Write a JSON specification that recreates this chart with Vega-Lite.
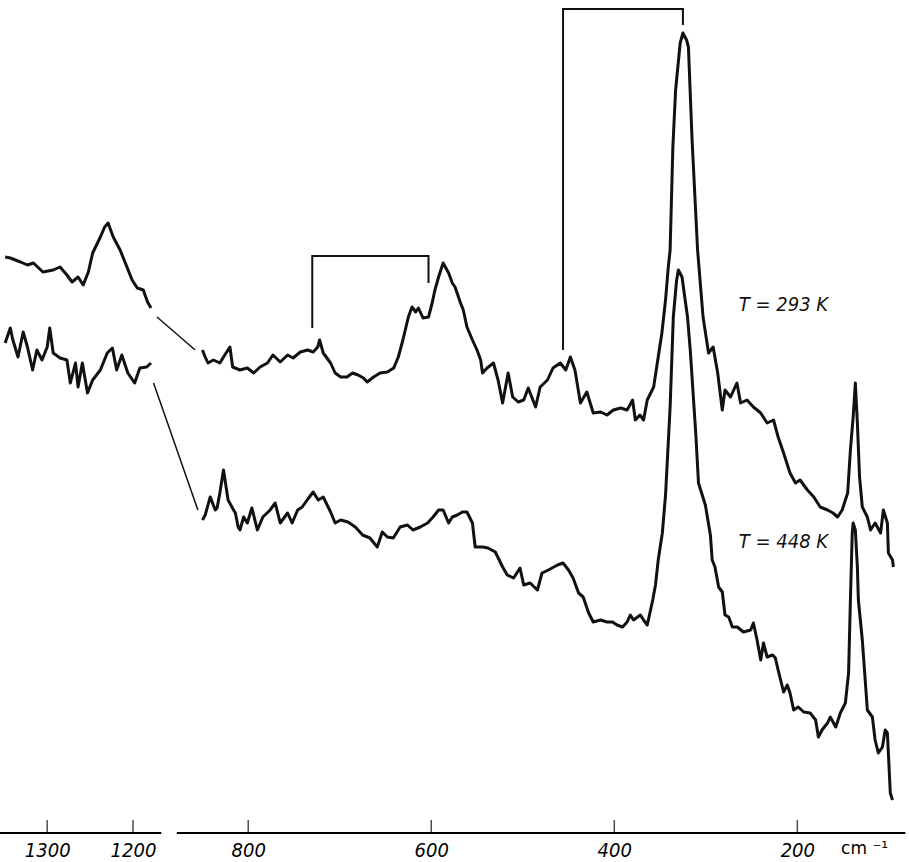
{
  "$schema": "https://vega.github.io/schema/vega-lite/v6.json",
  "width": 909,
  "height": 833,
  "padding": {"left": 0, "top": 0, "right": 0, "bottom": 29},
  "autosize": "none",
  "background": "white",
  "config": {"view": {"stroke": null}},
  "datasets": {
    "spectra": [
      {"trace":"293-a","wn":1349,"y":576},{"trace":"293-a","wn":1343,"y":575},{"trace":"293-a","wn":1331,"y":571},{"trace":"293-a","wn":1323,"y":568},{"trace":"293-a","wn":1316,"y":570},{"trace":"293-a","wn":1305,"y":561},{"trace":"293-a","wn":1293,"y":563},{"trace":"293-a","wn":1285,"y":566},{"trace":"293-a","wn":1277,"y":558},{"trace":"293-a","wn":1271,"y":551},{"trace":"293-a","wn":1264,"y":556},{"trace":"293-a","wn":1258,"y":548},{"trace":"293-a","wn":1252,"y":561},{"trace":"293-a","wn":1247,"y":580},{"trace":"293-a","wn":1238,"y":596},{"trace":"293-a","wn":1233,"y":606},{"trace":"293-a","wn":1229,"y":610},{"trace":"293-a","wn":1223,"y":596},{"trace":"293-a","wn":1215,"y":583},{"trace":"293-a","wn":1207,"y":566},{"trace":"293-a","wn":1201,"y":553},{"trace":"293-a","wn":1195,"y":545},{"trace":"293-a","wn":1188,"y":543},{"trace":"293-a","wn":1183,"y":531},{"trace":"293-a","wn":1179,"y":525},
      {"trace":"293-b","wn":850,"y":483},{"trace":"293-b","wn":847,"y":476},{"trace":"293-b","wn":844,"y":470},{"trace":"293-b","wn":838,"y":473},{"trace":"293-b","wn":831,"y":470},{"trace":"293-b","wn":827,"y":476},{"trace":"293-b","wn":820,"y":486},{"trace":"293-b","wn":817,"y":466},{"trace":"293-b","wn":809,"y":463},{"trace":"293-b","wn":801,"y":465},{"trace":"293-b","wn":794,"y":460},{"trace":"293-b","wn":787,"y":466},{"trace":"293-b","wn":779,"y":470},{"trace":"293-b","wn":773,"y":478},{"trace":"293-b","wn":765,"y":471},{"trace":"293-b","wn":757,"y":478},{"trace":"293-b","wn":751,"y":475},{"trace":"293-b","wn":743,"y":481},{"trace":"293-b","wn":735,"y":483},{"trace":"293-b","wn":729,"y":481},{"trace":"293-b","wn":724,"y":486},{"trace":"293-b","wn":722,"y":493},{"trace":"293-b","wn":718,"y":480},{"trace":"293-b","wn":710,"y":470},{"trace":"293-b","wn":705,"y":460},{"trace":"293-b","wn":699,"y":456},{"trace":"293-b","wn":692,"y":456},{"trace":"293-b","wn":686,"y":460},{"trace":"293-b","wn":680,"y":458},{"trace":"293-b","wn":674,"y":455},{"trace":"293-b","wn":670,"y":451},{"trace":"293-b","wn":663,"y":456},{"trace":"293-b","wn":656,"y":460},{"trace":"293-b","wn":648,"y":461},{"trace":"293-b","wn":641,"y":465},{"trace":"293-b","wn":636,"y":476},{"trace":"293-b","wn":631,"y":493},{"trace":"293-b","wn":625,"y":516},{"trace":"293-b","wn":621,"y":526},{"trace":"293-b","wn":617,"y":521},{"trace":"293-b","wn":614,"y":525},{"trace":"293-b","wn":609,"y":515},{"trace":"293-b","wn":603,"y":516},{"trace":"293-b","wn":599,"y":530},{"trace":"293-b","wn":596,"y":543},{"trace":"293-b","wn":592,"y":556},{"trace":"293-b","wn":587,"y":570},{"trace":"293-b","wn":581,"y":560},{"trace":"293-b","wn":577,"y":550},{"trace":"293-b","wn":574,"y":546},{"trace":"293-b","wn":568,"y":530},{"trace":"293-b","wn":565,"y":523},{"trace":"293-b","wn":561,"y":506},{"trace":"293-b","wn":555,"y":493},{"trace":"293-b","wn":550,"y":483},{"trace":"293-b","wn":546,"y":473},{"trace":"293-b","wn":544,"y":460},{"trace":"293-b","wn":539,"y":465},{"trace":"293-b","wn":532,"y":470},{"trace":"293-b","wn":527,"y":453},{"trace":"293-b","wn":522,"y":430},{"trace":"293-b","wn":516,"y":460},{"trace":"293-b","wn":511,"y":436},{"trace":"293-b","wn":505,"y":431},{"trace":"293-b","wn":499,"y":433},{"trace":"293-b","wn":494,"y":445},{"trace":"293-b","wn":486,"y":426},{"trace":"293-b","wn":481,"y":446},{"trace":"293-b","wn":473,"y":453},{"trace":"293-b","wn":467,"y":465},{"trace":"293-b","wn":459,"y":470},{"trace":"293-b","wn":453,"y":463},{"trace":"293-b","wn":448,"y":476},{"trace":"293-b","wn":443,"y":463},{"trace":"293-b","wn":437,"y":430},{"trace":"293-b","wn":430,"y":441},{"trace":"293-b","wn":423,"y":420},{"trace":"293-b","wn":415,"y":421},{"trace":"293-b","wn":408,"y":418},{"trace":"293-b","wn":401,"y":423},{"trace":"293-b","wn":393,"y":425},{"trace":"293-b","wn":386,"y":423},{"trace":"293-b","wn":380,"y":433},{"trace":"293-b","wn":377,"y":413},{"trace":"293-b","wn":372,"y":418},{"trace":"293-b","wn":368,"y":413},{"trace":"293-b","wn":364,"y":433},{"trace":"293-b","wn":357,"y":446},{"trace":"293-b","wn":352,"y":476},{"trace":"293-b","wn":348,"y":500},{"trace":"293-b","wn":344,"y":533},{"trace":"293-b","wn":341,"y":566},{"trace":"293-b","wn":339,"y":583},{"trace":"293-b","wn":336,"y":686},{"trace":"293-b","wn":333,"y":743},{"trace":"293-b","wn":328,"y":790},{"trace":"293-b","wn":325,"y":800},{"trace":"293-b","wn":321,"y":793},{"trace":"293-b","wn":319,"y":786},{"trace":"293-b","wn":315,"y":693},{"trace":"293-b","wn":309,"y":583},{"trace":"293-b","wn":303,"y":516},{"trace":"293-b","wn":297,"y":480},{"trace":"293-b","wn":292,"y":486},{"trace":"293-b","wn":287,"y":460},{"trace":"293-b","wn":282,"y":423},{"trace":"293-b","wn":279,"y":443},{"trace":"293-b","wn":273,"y":436},{"trace":"293-b","wn":266,"y":450},{"trace":"293-b","wn":262,"y":430},{"trace":"293-b","wn":255,"y":433},{"trace":"293-b","wn":248,"y":426},{"trace":"293-b","wn":240,"y":420},{"trace":"293-b","wn":233,"y":410},{"trace":"293-b","wn":226,"y":413},{"trace":"293-b","wn":221,"y":396},{"trace":"293-b","wn":215,"y":380},{"trace":"293-b","wn":208,"y":360},{"trace":"293-b","wn":202,"y":350},{"trace":"293-b","wn":197,"y":353},{"trace":"293-b","wn":189,"y":343},{"trace":"293-b","wn":182,"y":336},{"trace":"293-b","wn":175,"y":326},{"trace":"293-b","wn":167,"y":323},{"trace":"293-b","wn":161,"y":320},{"trace":"293-b","wn":156,"y":316},{"trace":"293-b","wn":151,"y":323},{"trace":"293-b","wn":145,"y":340},{"trace":"293-b","wn":142,"y":383},{"trace":"293-b","wn":139,"y":416},{"trace":"293-b","wn":136.6,"y":450},{"trace":"293-b","wn":134.4,"y":410},{"trace":"293-b","wn":132,"y":356},{"trace":"293-b","wn":129,"y":326},{"trace":"293-b","wn":123.5,"y":316},{"trace":"293-b","wn":120,"y":303},{"trace":"293-b","wn":115,"y":310},{"trace":"293-b","wn":109,"y":300},{"trace":"293-b","wn":106,"y":323},{"trace":"293-b","wn":101.6,"y":310},{"trace":"293-b","wn":100.5,"y":280},{"trace":"293-b","wn":96,"y":273},{"trace":"293-b","wn":95,"y":266},
      {"trace":"448-a","wn":1349,"y":490},{"trace":"448-a","wn":1343,"y":505},{"trace":"448-a","wn":1340,"y":493},{"trace":"448-a","wn":1334,"y":476},{"trace":"448-a","wn":1328,"y":501},{"trace":"448-a","wn":1323,"y":486},{"trace":"448-a","wn":1317,"y":463},{"trace":"448-a","wn":1312,"y":483},{"trace":"448-a","wn":1306,"y":473},{"trace":"448-a","wn":1300,"y":486},{"trace":"448-a","wn":1297,"y":505},{"trace":"448-a","wn":1293,"y":480},{"trace":"448-a","wn":1285,"y":475},{"trace":"448-a","wn":1277,"y":473},{"trace":"448-a","wn":1273,"y":450},{"trace":"448-a","wn":1267,"y":470},{"trace":"448-a","wn":1264,"y":446},{"trace":"448-a","wn":1259,"y":470},{"trace":"448-a","wn":1253,"y":440},{"trace":"448-a","wn":1247,"y":453},{"trace":"448-a","wn":1238,"y":463},{"trace":"448-a","wn":1230,"y":480},{"trace":"448-a","wn":1224,"y":485},{"trace":"448-a","wn":1219,"y":463},{"trace":"448-a","wn":1213,"y":478},{"trace":"448-a","wn":1206,"y":460},{"trace":"448-a","wn":1198,"y":450},{"trace":"448-a","wn":1192,"y":465},{"trace":"448-a","wn":1184,"y":466},{"trace":"448-a","wn":1179,"y":470},
      {"trace":"448-b","wn":850,"y":313},{"trace":"448-b","wn":847,"y":318},{"trace":"448-b","wn":841.5,"y":336},{"trace":"448-b","wn":836,"y":323},{"trace":"448-b","wn":834,"y":325},{"trace":"448-b","wn":831,"y":340},{"trace":"448-b","wn":827,"y":363},{"trace":"448-b","wn":822,"y":333},{"trace":"448-b","wn":816,"y":323},{"trace":"448-b","wn":814,"y":320},{"trace":"448-b","wn":811,"y":306},{"trace":"448-b","wn":809,"y":303},{"trace":"448-b","wn":805,"y":316},{"trace":"448-b","wn":801,"y":310},{"trace":"448-b","wn":796,"y":325},{"trace":"448-b","wn":790,"y":303},{"trace":"448-b","wn":784,"y":316},{"trace":"448-b","wn":776,"y":323},{"trace":"448-b","wn":770.5,"y":330},{"trace":"448-b","wn":765,"y":310},{"trace":"448-b","wn":757,"y":320},{"trace":"448-b","wn":752,"y":310},{"trace":"448-b","wn":746,"y":323},{"trace":"448-b","wn":741,"y":326},{"trace":"448-b","wn":734,"y":335},{"trace":"448-b","wn":729,"y":341},{"trace":"448-b","wn":723.5,"y":333},{"trace":"448-b","wn":718,"y":336},{"trace":"448-b","wn":710,"y":321},{"trace":"448-b","wn":705,"y":310},{"trace":"448-b","wn":699,"y":313},{"trace":"448-b","wn":691,"y":311},{"trace":"448-b","wn":683,"y":306},{"trace":"448-b","wn":675,"y":298},{"trace":"448-b","wn":667,"y":295},{"trace":"448-b","wn":659,"y":286},{"trace":"448-b","wn":653.5,"y":301},{"trace":"448-b","wn":648,"y":296},{"trace":"448-b","wn":641.5,"y":295},{"trace":"448-b","wn":634,"y":306},{"trace":"448-b","wn":626,"y":308},{"trace":"448-b","wn":620,"y":303},{"trace":"448-b","wn":612,"y":306},{"trace":"448-b","wn":604,"y":310},{"trace":"448-b","wn":598,"y":316},{"trace":"448-b","wn":592,"y":323},{"trace":"448-b","wn":587,"y":323},{"trace":"448-b","wn":581,"y":310},{"trace":"448-b","wn":577,"y":316},{"trace":"448-b","wn":571.5,"y":318},{"trace":"448-b","wn":566,"y":321},{"trace":"448-b","wn":561,"y":321},{"trace":"448-b","wn":555,"y":310},{"trace":"448-b","wn":552,"y":286},{"trace":"448-b","wn":544,"y":286},{"trace":"448-b","wn":538,"y":285},{"trace":"448-b","wn":530,"y":281},{"trace":"448-b","wn":522,"y":266},{"trace":"448-b","wn":517,"y":258},{"trace":"448-b","wn":510,"y":255},{"trace":"448-b","wn":503,"y":265},{"trace":"448-b","wn":499,"y":248},{"trace":"448-b","wn":492,"y":250},{"trace":"448-b","wn":484,"y":243},{"trace":"448-b","wn":479,"y":260},{"trace":"448-b","wn":472,"y":263},{"trace":"448-b","wn":462,"y":268},{"trace":"448-b","wn":456,"y":270},{"trace":"448-b","wn":450,"y":263},{"trace":"448-b","wn":445,"y":255},{"trace":"448-b","wn":439,"y":240},{"trace":"448-b","wn":434,"y":236},{"trace":"448-b","wn":428,"y":220},{"trace":"448-b","wn":423,"y":211},{"trace":"448-b","wn":415,"y":213},{"trace":"448-b","wn":408,"y":211},{"trace":"448-b","wn":402,"y":211},{"trace":"448-b","wn":397,"y":208},{"trace":"448-b","wn":391,"y":206},{"trace":"448-b","wn":386,"y":211},{"trace":"448-b","wn":382.5,"y":218},{"trace":"448-b","wn":379,"y":213},{"trace":"448-b","wn":371.5,"y":218},{"trace":"448-b","wn":368,"y":213},{"trace":"448-b","wn":364,"y":208},{"trace":"448-b","wn":358,"y":233},{"trace":"448-b","wn":355,"y":248},{"trace":"448-b","wn":352,"y":273},{"trace":"448-b","wn":347.5,"y":300},{"trace":"448-b","wn":344,"y":338},{"trace":"448-b","wn":339,"y":426},{"trace":"448-b","wn":335.5,"y":516},{"trace":"448-b","wn":332,"y":552},{"trace":"448-b","wn":330,"y":563},{"trace":"448-b","wn":326,"y":556},{"trace":"448-b","wn":320,"y":516},{"trace":"448-b","wn":317,"y":483},{"trace":"448-b","wn":311,"y":400},{"trace":"448-b","wn":308,"y":350},{"trace":"448-b","wn":300.5,"y":328},{"trace":"448-b","wn":295,"y":298},{"trace":"448-b","wn":293,"y":273},{"trace":"448-b","wn":290,"y":266},{"trace":"448-b","wn":286,"y":246},{"trace":"448-b","wn":282,"y":241},{"trace":"448-b","wn":279,"y":218},{"trace":"448-b","wn":275,"y":216},{"trace":"448-b","wn":271,"y":206},{"trace":"448-b","wn":265.5,"y":206},{"trace":"448-b","wn":259,"y":201},{"trace":"448-b","wn":251,"y":203},{"trace":"448-b","wn":248,"y":210},{"trace":"448-b","wn":244,"y":193},{"trace":"448-b","wn":240,"y":173},{"trace":"448-b","wn":237,"y":190},{"trace":"448-b","wn":233,"y":176},{"trace":"448-b","wn":227,"y":178},{"trace":"448-b","wn":224,"y":175},{"trace":"448-b","wn":221,"y":163},{"trace":"448-b","wn":215,"y":141},{"trace":"448-b","wn":211,"y":148},{"trace":"448-b","wn":208,"y":140},{"trace":"448-b","wn":204,"y":123},{"trace":"448-b","wn":199,"y":126},{"trace":"448-b","wn":193,"y":121},{"trace":"448-b","wn":186,"y":120},{"trace":"448-b","wn":180,"y":113},{"trace":"448-b","wn":177,"y":96},{"trace":"448-b","wn":173,"y":103},{"trace":"448-b","wn":167,"y":110},{"trace":"448-b","wn":164,"y":116},{"trace":"448-b","wn":158,"y":106},{"trace":"448-b","wn":153,"y":120},{"trace":"448-b","wn":147.5,"y":130},{"trace":"448-b","wn":144,"y":160},{"trace":"448-b","wn":142,"y":233},{"trace":"448-b","wn":140,"y":300},{"trace":"448-b","wn":139,"y":310},{"trace":"448-b","wn":136.6,"y":303},{"trace":"448-b","wn":134.4,"y":266},{"trace":"448-b","wn":133.3,"y":233},{"trace":"448-b","wn":129,"y":193},{"trace":"448-b","wn":125.6,"y":150},{"trace":"448-b","wn":123.5,"y":123},{"trace":"448-b","wn":118,"y":116},{"trace":"448-b","wn":115,"y":93},{"trace":"448-b","wn":111.5,"y":80},{"trace":"448-b","wn":107,"y":86},{"trace":"448-b","wn":104,"y":103},{"trace":"448-b","wn":101.6,"y":100},{"trace":"448-b","wn":98.4,"y":40},{"trace":"448-b","wn":96,"y":33}
    ],
    "connectors": [
      {"id":"293","wn":1172,"y":516},{"id":"293","wn":858,"y":483},
      {"id":"448","wn":1176,"y":450},{"id":"448","wn":855,"y":323}
    ],
    "brackets": [
      {"id":"b1","i":0,"wn":730,"y":505},{"id":"b1","i":1,"wn":730,"y":577},{"id":"b1","i":2,"wn":603,"y":577},{"id":"b1","i":3,"wn":603,"y":550},
      {"id":"b2","i":0,"wn":456,"y":483},{"id":"b2","i":1,"wn":456,"y":824},{"id":"b2","i":2,"wn":325,"y":824},{"id":"b2","i":3,"wn":325,"y":808}
    ],
    "labels": [
      {"wn":264,"y":528,"text":"T = 293 K"},
      {"wn":264,"y":291,"text":"T = 448 K"}
    ],
    "axisline": [
      {"wn":1355,"wn2":1167},
      {"wn":878,"wn2":82}
    ],
    "ticks": [
      {"wn":1300},{"wn":1200},{"wn":800},{"wn":600},{"wn":400},{"wn":200}
    ]
  },
  "layer": [
    {
      "data": {"name": "axisline"},
      "mark": {"type": "rule", "color": "black", "strokeWidth": 2},
      "encoding": {
        "x": {"field": "wn", "type": "quantitative",
          "scale": {"domain": [1355, 1165, 880, 90], "range": [0, 163, 175, 898], "nice": false, "zero": false},
          "axis": {
            "values": [1300, 1200, 800, 600, 400, 200, 127],
            "format": "d",
            "domain": false, "grid": false, "ticks": false, "title": null,
            "labelExpr": "datum.value == 127 ? 'cm ⁻¹' : datum.label",
            "labelFont": {"condition": {"test": "datum.value == 127", "value": "DejaVu Sans"}, "value": "DejaVu Sans Condensed"},
            "labelFontStyle": {"condition": {"test": "datum.value == 127", "value": "normal"}, "value": "italic"},
            "labelFontSize": {"condition": {"test": "datum.value == 127", "value": 17}, "value": 20},
            "labelColor": "black", "labelPadding": 7,
            "labelOverlap": false, "labelFlush": false, "labelBound": false
          }},
        "x2": {"field": "wn2"},
        "y": {"datum": 0, "type": "quantitative", "scale": {"domain": [0, 833], "nice": false, "zero": false}, "axis": null}
      }
    },
    {
      "data": {"name": "ticks"},
      "mark": {"type": "tick", "orient": "vertical", "color": "black", "size": 13, "thickness": 1.5, "yOffset": -6.5},
      "encoding": {
        "x": {"field": "wn", "type": "quantitative"},
        "y": {"datum": 0, "type": "quantitative"}
      }
    },
    {
      "data": {"name": "spectra"},
      "mark": {"type": "line", "color": "#111", "strokeWidth": 3, "strokeJoin": "round"},
      "encoding": {
        "x": {"field": "wn", "type": "quantitative"},
        "y": {"field": "y", "type": "quantitative"},
        "detail": {"field": "trace"}
      }
    },
    {
      "data": {"name": "connectors"},
      "mark": {"type": "line", "color": "#111", "strokeWidth": 1.5},
      "encoding": {
        "x": {"field": "wn", "type": "quantitative"},
        "y": {"field": "y", "type": "quantitative"},
        "detail": {"field": "id"}
      }
    },
    {
      "data": {"name": "brackets"},
      "mark": {"type": "line", "color": "#111", "strokeWidth": 2},
      "encoding": {
        "x": {"field": "wn", "type": "quantitative"},
        "y": {"field": "y", "type": "quantitative"},
        "detail": {"field": "id"},
        "order": {"field": "i"}
      }
    },
    {
      "data": {"name": "labels"},
      "mark": {"type": "text", "align": "left", "baseline": "middle", "font": "DejaVu Sans Condensed", "fontStyle": "italic", "fontSize": 20, "color": "#111"},
      "encoding": {
        "x": {"field": "wn", "type": "quantitative"},
        "y": {"field": "y", "type": "quantitative"},
        "text": {"field": "text"}
      }
    }
  ]
}
